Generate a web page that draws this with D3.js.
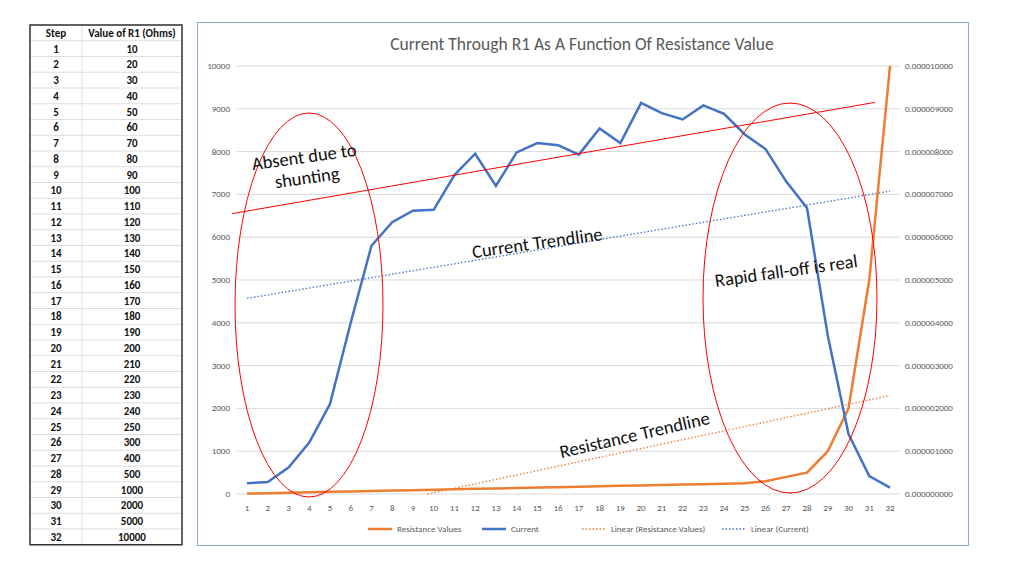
<!DOCTYPE html>
<html><head><meta charset="utf-8">
<script src="https://cdn.jsdelivr.net/npm/d3@7"></script>
<style>body{margin:0;background:#fff;font-family:Calibri,Carlito,"Liberation Sans",sans-serif}</style>
</head><body><div id="main"></div>
<script>
const steps = d3.range(1, 33);
const resistance = [10,20,30,40,50,60,70,80,90,100,110,120,130,140,150,160,170,180,190,200,210,220,230,240,250,300,400,500,1000,2000,5000,10000];
// current in units of 1e-9 A (right axis shown as x1e-9)
const current = [250,280,620,1200,2100,4000,5800,6350,6620,6640,7450,7950,7200,7980,8200,8150,7930,8540,8200,9140,8900,8750,9080,8880,8400,8060,7300,6680,3700,1400,420,150];
const leftTicks = d3.range(0, 10001, 1000);

const W = 1024, H = 576;
const svg = d3.select("#main").append("svg").attr("width", W).attr("height", H);

/* table */
const tx = 30, ty = 25, rowH = 15.75, colW = [52, 100];
const tbl = svg.append("g");
const rows = [["Step","Value of R1 (Ohms)"]].concat(steps.map((s,i)=>[s, resistance[i]]));
rows.forEach((r,i)=>{
  const y = ty + i*rowH;
  tbl.append("line").attr("x1",tx).attr("x2",tx+colW[0]+colW[1]).attr("y1",y).attr("y2",y).attr("stroke","#ddd");
  tbl.append("text").attr("x",tx+colW[0]/2).attr("y",y+rowH/2+4).attr("text-anchor","middle")
    .attr("font-size",11).attr("font-weight", "bold").attr("fill","#111").text(r[0]);
  tbl.append("text").attr("x",tx+colW[0]+colW[1]/2).attr("y",y+rowH/2+4).attr("text-anchor","middle")
    .attr("font-size",11).attr("font-weight","bold").attr("fill","#111").text(r[1]);
});
tbl.append("line").attr("x1",tx+colW[0]).attr("x2",tx+colW[0]).attr("y1",ty).attr("y2",ty+rows.length*rowH).attr("stroke","#ddd");
tbl.append("rect").attr("x",tx).attr("y",ty).attr("width",colW[0]+colW[1]).attr("height",rows.length*rowH)
  .attr("fill","none").attr("stroke","#333").attr("stroke-width",1.5);

/* chart frame */
svg.append("rect").attr("x",197.5).attr("y",22.5).attr("width",771).attr("height",523)
  .attr("fill","none").attr("stroke","#8eaadb").attr("stroke-width",1);
svg.append("text").attr("x",582).attr("y",50).attr("text-anchor","middle").attr("font-size",17.5)
  .attr("fill","#595959").text("Current Through R1 As A Function Of Resistance Value");

const x = d3.scaleLinear().domain([1, 32]).range([247, 890]);
const y = d3.scaleLinear().domain([0, 10000]).range([494, 66]);
const yR = d3.scaleLinear().domain([0, 10e-6]).range([494, 66]);

const g = svg.append("g");
g.selectAll(".grid").data(leftTicks).join("line")
  .attr("x1",237).attr("x2",900).attr("y1",d=>y(d)).attr("y2",d=>y(d)).attr("stroke","#d9d9d9");
g.selectAll(".lt").data(leftTicks).join("text").attr("x",230).attr("y",d=>y(d)+3).attr("text-anchor","end")
  .attr("font-size",9).attr("fill","#595959").text(d=>d);
g.selectAll(".rt").data(leftTicks).join("text").attr("x",905).attr("y",d=>yR(d*1e-9)+3)
  .attr("font-size",9).attr("fill","#595959").text(d=>(d*1e-9).toFixed(9));
g.selectAll(".xt").data(steps).join("text").attr("x",d=>x(d)).attr("y",511).attr("text-anchor","middle")
  .attr("font-size",9).attr("fill","#595959").text(d=>d);

/* trendlines (least squares fits) */
function fit(vals){
  const mx = d3.mean(steps), my = d3.mean(vals);
  const b = d3.sum(steps,(s,i)=>(s-mx)*(vals[i]-my))/d3.sum(steps,s=>(s-mx)**2);
  return [b, my-b*mx];
}
const [rb, ra] = fit(resistance);
const r0 = Math.max(1, -ra/rb);
g.append("line").attr("x1",x(r0)).attr("y1",y(ra+rb*r0)).attr("x2",x(32)).attr("y2",y(ra+rb*32))
  .attr("stroke","#ed7d31").attr("stroke-width",1.3).attr("stroke-dasharray","1.5,2");
const [cb, ca] = fit(current);
g.append("line").attr("x1",x(1)).attr("y1",y(ca+cb)).attr("x2",x(32)).attr("y2",y(ca+cb*32))
  .attr("stroke","#4472c4").attr("stroke-width",1.3).attr("stroke-dasharray","1.5,2");

const line = (vals)=>d3.line().x((d,i)=>x(steps[i])).y(d=>y(d))(vals);
g.append("path").attr("d",line(resistance)).attr("fill","none").attr("stroke","#ed7d31").attr("stroke-width",2.5);
g.append("path").attr("d",line(current)).attr("fill","none").attr("stroke","#4472c4").attr("stroke-width",2.5);

/* annotations */
const ann = svg.append("g");
ann.append("line").attr("x1",232).attr("y1",y(6550)).attr("x2",875).attr("y2",y(9150)).attr("stroke","#ff0000").attr("stroke-width",1);
ann.append("ellipse").attr("cx",309).attr("cy",305).attr("rx",74).attr("ry",192).attr("fill","none").attr("stroke","#ff0000");
ann.append("ellipse").attr("cx",790).attr("cy",298).attr("rx",87).attr("ry",195).attr("fill","none").attr("stroke","#ff0000");
function rtext(tx, ty, ang, lines){
  const t = ann.append("text").attr("transform",`translate(${tx},${ty}) rotate(${ang})`).attr("font-size",18.5).attr("fill","#111");
  lines.forEach((l,i)=>t.append("tspan").attr("x",0).attr("dy",i?21:0).attr("text-anchor","middle").text(l));
}
rtext(305,163,-8,["Absent due to","shunting"]);
rtext(538,249,-8,["Current Trendline"]);
rtext(787,277,-8,["Rapid fall-off is real"]);
rtext(636,441,-13,["Resistance Trendline"]);

/* legend */
const leg = [["Resistance Values","#ed7d31",null],["Current","#4472c4",null],["Linear (Resistance Values)","#ed7d31","1.5,2"],["Linear (Current)","#4472c4","1.5,2"]];
const lx = [368, 482, 582, 722];
leg.forEach((l,i)=>{
  svg.append("line").attr("x1",lx[i]).attr("x2",lx[i]+24).attr("y1",529).attr("y2",529).attr("stroke",l[1])
    .attr("stroke-width",l[2]?1.3:2.5).attr("stroke-dasharray",l[2]);
  svg.append("text").attr("x",lx[i]+29).attr("y",532).attr("font-size",9).attr("fill","#595959").text(l[0]);
});
</script></body></html>
